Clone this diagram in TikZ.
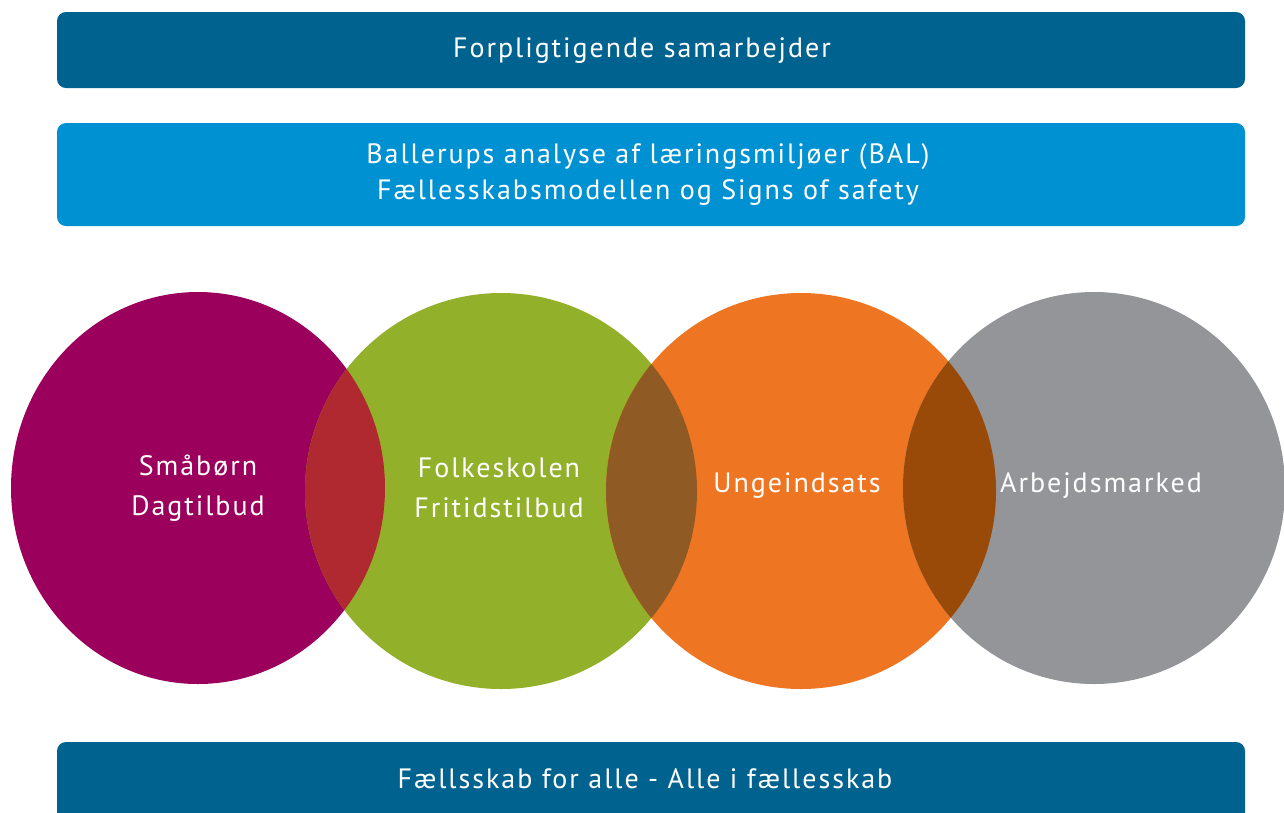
\documentclass[tikz,border=0pt]{standalone}
\usepackage{fontspec}
\setmainfont[LetterSpace=7]{PT Sans}
\usepackage{tikz}
\usetikzlibrary{positioning}

\definecolor{bardark}{RGB}{0,98,142}
\definecolor{barlight}{RGB}{0,145,210}
\definecolor{plum}{RGB}{155,0,92}
\definecolor{leaf}{RGB}{147,176,42}
\definecolor{tangerine}{RGB}{238,118,35}
\definecolor{slate}{RGB}{147,149,152}
\definecolor{lensred}{RGB}{176,40,48}
\definecolor{lensbrown}{RGB}{143,90,35}
\definecolor{lensrust}{RGB}{154,74,8}

\tikzset{
  bar/.style={rounded corners=9pt},
  bartext/.style={text=white, font=\fontsize{28}{36}\selectfont, align=center},
  blobtext/.style={text=white, font=\fontsize{28}{40}\selectfont, align=center}
}

\begin{document}
\begin{tikzpicture}[x=1pt, y=-1pt]

  \useasboundingbox (0,0) rectangle (1284,812);
  \fill[white] (0,0) rectangle (1284,812);

  %% bars
  \fill[bar, bardark] (57,12) rectangle (1245,88);
  \fill[bar, barlight] (57,123) rectangle (1245,226);
  \begin{scope}
    \clip (0,0) rectangle (1284,812);
    \fill[bar, bardark] (57,742) rectangle (1245,840);
  \end{scope}

  %% circles
  \fill[plum] (198,488) ellipse [x radius=187, y radius=196];
  \fill[leaf] (501,491) ellipse [x radius=196, y radius=198];
  \fill[tangerine] (801,491) ellipse [x radius=195, y radius=198];
  \fill[slate] (1094,488) ellipse [x radius=191, y radius=196];

  %% overlaps
  \begin{scope}
    \clip (198,488) ellipse [x radius=187, y radius=196];
    \fill[lensred] (501,491) ellipse [x radius=196, y radius=198];
  \end{scope}
  \begin{scope}
    \clip (501,491) ellipse [x radius=196, y radius=198];
    \fill[lensbrown] (801,491) ellipse [x radius=195, y radius=198];
  \end{scope}
  \begin{scope}
    \clip (801,491) ellipse [x radius=195, y radius=198];
    \fill[lensrust] (1094,488) ellipse [x radius=191, y radius=196];
  \end{scope}

  %% bar texts
  \node[bartext] (forpligt) at (642,51) {Forpligtigende samarbejder};
  \node[bartext] (bal) at (648,174) {Ballerups analyse af læringsmiljøer (BAL)\\Fællesskabsmodellen og Signs of safety};
  \node[bartext] (faelles) at (645,779) {Fællsskab for alle - Alle i fællesskab};

  %% circle texts
  \node[blobtext] (smaa) at (198,488) {Småbørn\\Dagtilbud};
  \node[blobtext] (folke) at (499,488) {Folkeskolen\\Fritidstilbud};
  \node[blobtext] (unge) at (797,486) {Ungeindsats};
  \node[blobtext] (arbejd) at (1101,486) {Arbejdsmarked};

\end{tikzpicture}
\end{document}
